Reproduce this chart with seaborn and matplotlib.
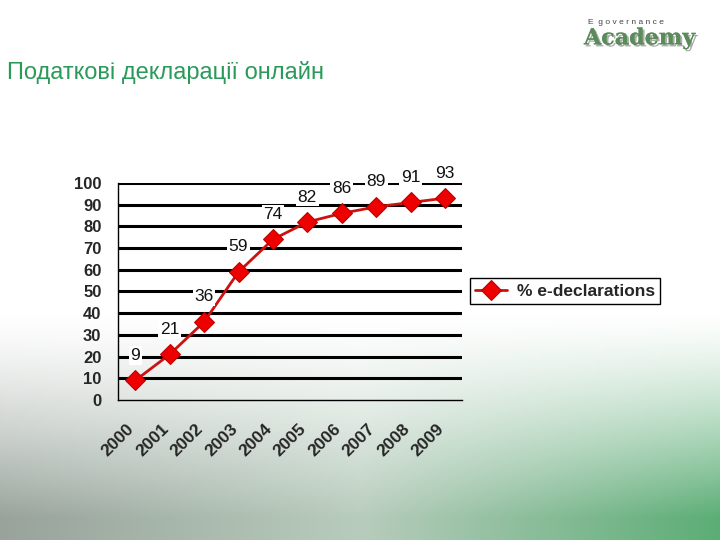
import numpy as np
import matplotlib
matplotlib.use("Agg")
import matplotlib.pyplot as plt
import matplotlib.patheffects as pe
import seaborn as sns

years = ["2000", "2001", "2002", "2003", "2004", "2005", "2006", "2007", "2008", "2009"]
e_declarations = [9, 21, 36, 59, 74, 82, 86, 89, 91, 93]
y_ticks = [0, 10, 20, 30, 40, 50, 60, 70, 80, 90, 100]

sns.set_theme(style="white")
plt.rcParams["font.family"] = ["Liberation Sans", "DejaVu Sans"]

fig = plt.figure(figsize=(7.2, 5.4), dpi=100)

# slide background: white on top, greyish-green haze at the bottom
h, w = 270, 360
yy = np.linspace(0, 1, h)[:, None]
xx = np.linspace(0, 1, w)[None, :]
fade = np.clip((yy - 0.58) / 0.38, 0, 1) ** 1.3
left = np.array([0.60, 0.64, 0.61])
mid = np.array([0.72, 0.80, 0.74])
right = np.array([0.36, 0.68, 0.46])
tint = np.where(xx[..., None] < 0.5,
                left + (mid - left) * (xx[..., None] / 0.5),
                mid + (right - mid) * ((xx[..., None] - 0.5) / 0.5))
img = 1 - fade[..., None] * (1 - tint)
bg = fig.add_axes([0, 0, 1, 1])
bg.imshow(img, extent=[0, 1, 0, 1], aspect="auto", origin="upper")
bg.set_xlim(0, 1)
bg.set_ylim(0, 1)
bg.axis("off")

# header
fig.text(0.01, 0.865, "Податкові декларації онлайн", fontsize=17, color="#2a9a5a",
         ha="left", va="center")
fig.text(0.817, 0.958, "E  g o v e r n a n c e", fontsize=6, color="#444444",
         ha="left", va="center")
fig.text(0.811, 0.929, "Academy", fontsize=16, color="#5a8c5a", fontweight="bold",
         family="DejaVu Serif", ha="left", va="center",
         path_effects=[pe.withSimplePatchShadow(offset=(1.5, -1.5), shadow_rgbFace="#999999", alpha=0.8),
                       pe.Normal()])

ax = fig.add_axes([0.164, 0.2593, 0.478, 0.4019])
ax.patch.set_alpha(0)

x_pos = np.arange(len(years))
sns.lineplot(x=x_pos, y=e_declarations, ax=ax, color="#cc1111", linewidth=2,
             marker="D", markersize=10, markerfacecolor="#ee0000",
             markeredgecolor="#bb0000", label="% e-declarations", zorder=4)

for xp, val in zip(x_pos, e_declarations):
    ax.annotate(str(val), (xp, val), textcoords="offset points", xytext=(0, 18),
                ha="center", va="center", fontsize=12.5, color="#111111",
                annotation_clip=False, zorder=5,
                bbox=dict(boxstyle="square,pad=0.1", fc="white", ec="none"))

ax.set_xlim(-0.5, len(years) - 0.5)
ax.set_ylim(0, 100)
ax.set_yticks(y_ticks)
ax.set_yticklabels([str(t) for t in y_ticks], fontsize=12, fontweight="bold")
# labels sit a little left of each point, as in the slide
ax.set_xticks(x_pos - 0.25)
ax.set_xticklabels(years, rotation=45, ha="right", rotation_mode="anchor",
                   fontsize=12.5, fontweight="bold")
ax.set_xticks(np.arange(-0.5, len(years)), minor=True)
ax.tick_params(axis="x", which="major", length=0, pad=15)
ax.tick_params(axis="x", which="minor", length=6, width=1, color="black", direction="out")
ax.tick_params(axis="y", length=4, width=1, color="black", direction="out", pad=8)

for t in y_ticks[1:]:
    ax.axhline(t, color="black", linewidth=2.2, zorder=1)

for side in ["top", "right"]:
    ax.spines[side].set_visible(False)
for side in ["left", "bottom"]:
    ax.spines[side].set_color("black")
    ax.spines[side].set_linewidth(1)

leg = ax.legend(loc="upper left", bbox_to_anchor=(1.023, 0.56), frameon=True,
                fancybox=False, borderpad=0.3, borderaxespad=0, handlelength=1.8,
                handletextpad=0.6, prop={"weight": "bold", "size": 12.5})
leg.get_frame().set_edgecolor("black")
leg.get_frame().set_linewidth(1)
leg.get_frame().set_facecolor("white")
leg.get_frame().set_alpha(1)

fig.savefig("out.png", dpi=100)
